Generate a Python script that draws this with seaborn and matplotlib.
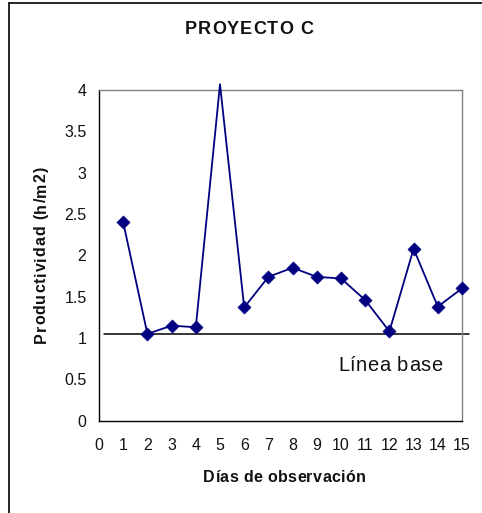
import matplotlib
matplotlib.use("Agg")
import matplotlib.pyplot as plt
import seaborn as sns
import pandas as pd
from matplotlib.lines import Line2D
from matplotlib.transforms import IdentityTransform

sns.set_style("white")
plt.rcParams['font.family'] = ['Liberation Sans', 'DejaVu Sans']

# Observation days and measured productivity
dias = [1, 2, 3, 4, 5, 6, 7, 8, 9, 10, 11, 12, 13, 14, 15]
productividad = [2.40, 1.05, 1.15, 1.13, 4.07, 1.37, 1.74, 1.85, 1.74, 1.72,
                 1.46, 1.08, 2.08, 1.38, 1.60]
linea_base = 1.05
x_ticks = list(range(0, 16))
y_ticks = [0, 0.5, 1, 1.5, 2, 2.5, 3, 3.5, 4]
y_tick_labels = ["0", "0.5", "1", "1.5", "2", "2.5", "3", "3.5", "4"]

W, H = 482, 513
df = pd.DataFrame({"dia": dias, "prod": productividad})
y_max = 4

fig = plt.figure(figsize=(W / 100, H / 100), dpi=100)
ax = fig.add_axes([99 / W, 1 - 420.7 / H, (462 - 99) / W, (420.7 - 90) / H])
renderer = fig.canvas.get_renderer()


def advance(ch, **kw):
    """Horizontal advance of one character, in pixels."""
    def width(s):
        t = fig.text(0, 0, s, transform=IdentityTransform(), **kw)
        w = t.get_window_extent(renderer).width
        t.remove()
        return w
    return width("x" + ch + "x") - width("xx")


def spaced_text(cx, cy, s, total, rotation=0, **kw):
    """Draw s letter-spaced, centred on (cx, baseline cy) in display pixels,
    spread over `total` pixels along the writing direction."""
    adv = [advance(ch, **kw) for ch in s]
    gap = (total - sum(adv)) / max(len(s) - 1, 1)
    pos = -total / 2
    for ch, a in zip(s, adv):
        c = pos + a / 2
        if rotation == 90:
            x, y = cx, cy + c
        else:
            x, y = cx + c, cy
        fig.text(x, y, ch, transform=IdentityTransform(), rotation=rotation,
                 rotation_mode="anchor", ha="center", va="baseline", **kw)
        pos += a + gap


navy = "#000080"
sns.lineplot(data=df, x="dia", y="prod", ax=ax, color=navy, linewidth=1.3,
             clip_on=False, zorder=3)
# markers only for points inside the plot area
inside = df[df["prod"] <= y_max]
sns.scatterplot(data=inside, x="dia", y="prod", ax=ax, color=navy, marker="D",
                s=44, edgecolor=navy, linewidth=0.5, zorder=4, clip_on=False)

# baseline reference line
ax.plot([0.2, 15.3], [linea_base, linea_base], color="black", linewidth=1.1,
        clip_on=False, zorder=2)

ax.set_xlim(0, 15)
ax.set_ylim(0, y_max)
ax.set_xticks(x_ticks)
ax.set_xticklabels([str(v) for v in x_ticks])
ax.set_yticks(y_ticks)
ax.set_yticklabels(y_tick_labels)
ax.tick_params(axis="both", labelsize=11.5, colors="#111111", direction="out",
               length=4, width=0.8)
ax.tick_params(axis="x", pad=8.5)
ax.tick_params(axis="y", pad=5)
for s in ["left", "bottom"]:
    ax.spines[s].set_color("black")
    ax.spines[s].set_linewidth(1.0)
for s in ["top", "right"]:
    ax.spines[s].set_color("#808080")
    ax.spines[s].set_linewidth(1.0)
ax.set_xlabel("")
ax.set_ylabel("")

# baseline caption, anchored in data coordinates
bx, by = ax.transData.transform((12.04, 0.605))
spaced_text(bx, by, "Línea base", 104, fontsize=14.5, color="#111111")

# title and axis labels
spaced_text(249, H - 33.7, "PROYECTO C", 128, fontsize=13, fontweight="bold",
            color="#111111")
spaced_text(284.3, H - 482, "Días de observación", 163, fontsize=11.5,
            fontweight="bold", color="#111111")
spaced_text(45.5, H - 255, "Productividad (h/m2)", 176, rotation=90,
            fontsize=11.5, fontweight="bold", color="#111111")

# outer chart frame
fig.add_artist(Line2D([9 / W, 9 / W], [0, 1 - 3 / H], color="black",
                      linewidth=1.2, transform=fig.transFigure))
fig.add_artist(Line2D([9 / W, 1], [1 - 3 / H, 1 - 3 / H], color="black",
                      linewidth=1.2, transform=fig.transFigure))

fig.savefig("out.png", dpi=100)
